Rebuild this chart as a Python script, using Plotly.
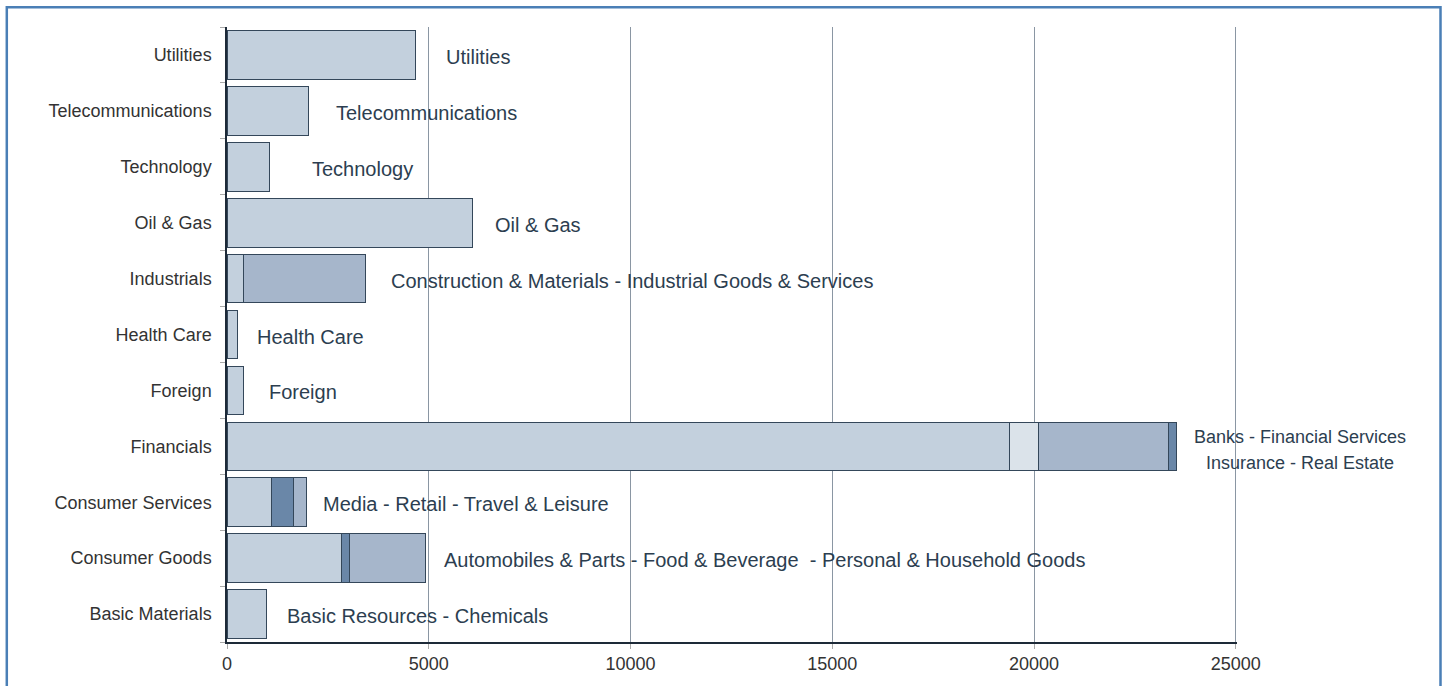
import plotly.graph_objects as go

# ---------------- data ----------------
categories = ["Basic Materials", "Consumer Goods", "Consumer Services", "Financials",
              "Foreign", "Health Care", "Industrials", "Oil & Gas", "Technology",
              "Telecommunications", "Utilities"]

seg1 = [980, 2830, 1105, 19380, 420, 250, 400, 6090, 1065, 2030, 4680]
seg2 = [None, 205, 535, 720, None, None, 3040, None, None, None, None]
seg3 = [None, 1880, 330, 3220, None, None, None, None, None, None, None]
seg4 = [None, None, None, 220, None, None, None, None, None, None, None]

bar_labels = ["Basic Resources - Chemicals",
              "Automobiles & Parts - Food & Beverage  - Personal & Household Goods",
              "Media - Retail - Travel & Leisure",
              None,
              "Foreign", "Health Care",
              "Construction & Materials - Industrial Goods & Services",
              "Oil & Gas", "Technology", "Telecommunications", "Utilities"]
fin_labels = ["Banks - Financial Services", "Insurance - Real Estate"]

x_ticks = [0, 5000, 10000, 15000, 20000, 25000]

# ---------------- styles ----------------
LIGHT = "#c3d0dd"
LIGHTER = "#dbe3ea"
MED = "#a6b6cb"
DARK = "#6a87a8"
EDGE = "#34475a"

seg2_colors = [LIGHT, DARK, DARK, LIGHTER, LIGHT, LIGHT, MED, LIGHT, LIGHT, LIGHT, LIGHT]
seg3_colors = [MED] * len(categories)
seg4_colors = [DARK] * len(categories)
label_gap_px = {"Basic Materials": 18, "Consumer Goods": 17, "Consumer Services": 15,
                "Foreign": 23, "Health Care": 18, "Industrials": 23, "Oil & Gas": 20,
                "Technology": 40, "Telecommunications": 25, "Utilities": 28}

fig = go.Figure()
for vals, cols in [(seg1, [LIGHT] * len(categories)), (seg2, seg2_colors),
                   (seg3, seg3_colors), (seg4, seg4_colors)]:
    fig.add_trace(go.Bar(
        y=categories, x=vals, orientation="h",
        marker=dict(color=cols, line=dict(color=EDGE, width=1)),
        showlegend=False, hoverinfo="x+y",
    ))

totals = [sum(v for v in (a, b, c, d) if v is not None)
          for a, b, c, d in zip(seg1, seg2, seg3, seg4)]

FONT = "Liberation Sans, Arial, sans-serif"
annotations = []
for cat, tot, lab in zip(categories, totals, bar_labels):
    if lab is None:
        continue
    annotations.append(dict(
        x=tot, y=cat, xref="x", yref="y", text=lab, showarrow=False,
        xanchor="left", yanchor="middle", xshift=label_gap_px[cat], yshift=-2,
        font=dict(family=FONT, size=20, color="#2c3e50"),
    ))
fin_idx = categories.index("Financials")
for i, lab in enumerate(fin_labels):
    annotations.append(dict(
        x=totals[fin_idx], y="Financials", xref="x", yref="y", text=lab, showarrow=False,
        xanchor="center", yanchor="middle", xshift=123, yshift=9 - 26 * i,
        font=dict(family=FONT, size=18, color="#2c3e50"),
    ))

L, R, T, B = 227, 210, 27, 38
W, H = 1447, 686
pw, ph = W - L - R, H - T - B

def px_to_paper_x(px):
    return (px - L) / pw

def px_to_paper_y(py):
    return (H - B - py) / ph

fig.update_layout(
    width=W, height=H,
    margin=dict(l=L, r=R, t=T, b=B, pad=0),
    barmode="stack", bargap=0.13,
    paper_bgcolor="white", plot_bgcolor="white",
    font=dict(family=FONT, size=18, color="#333333"),
    xaxis=dict(
        range=[0, 25030], tickvals=x_ticks, ticktext=[str(v) for v in x_ticks],
        showgrid=True, gridcolor="#8a96a3", gridwidth=1,
        showline=True, linecolor="#1d2a38", linewidth=1.5,
        ticks="outside", ticklen=5, tickcolor="#aaaaaa",
        zeroline=False, tickfont=dict(size=18, color="#333333"),
    ),
    yaxis=dict(
        type="category", categoryorder="array", categoryarray=categories,
        range=[-0.5, len(categories) - 0.5],
        showgrid=False, showline=True, linecolor="#1d2a38", linewidth=1.5,
        ticks="outside", ticklen=5, tickcolor="#aaaaaa", tickson="boundaries",
        ticklabelstandoff=10, tickfont=dict(size=18, color="#333333"),
    ),
    annotations=annotations,
    shapes=[dict(
        type="rect", xref="paper", yref="paper",
        x0=px_to_paper_x(6.8), x1=px_to_paper_x(1440.5),
        y0=px_to_paper_y(700), y1=px_to_paper_y(7),
        line=dict(color="#4a7fb6", width=2.5), fillcolor="rgba(0,0,0,0)", layer="above",
    )],
)

fig.write_html(
    "out.html",
    config={"displayModeBar": False},
    post_script="document.body.style.margin='0';document.body.style.overflow='hidden';",
)
